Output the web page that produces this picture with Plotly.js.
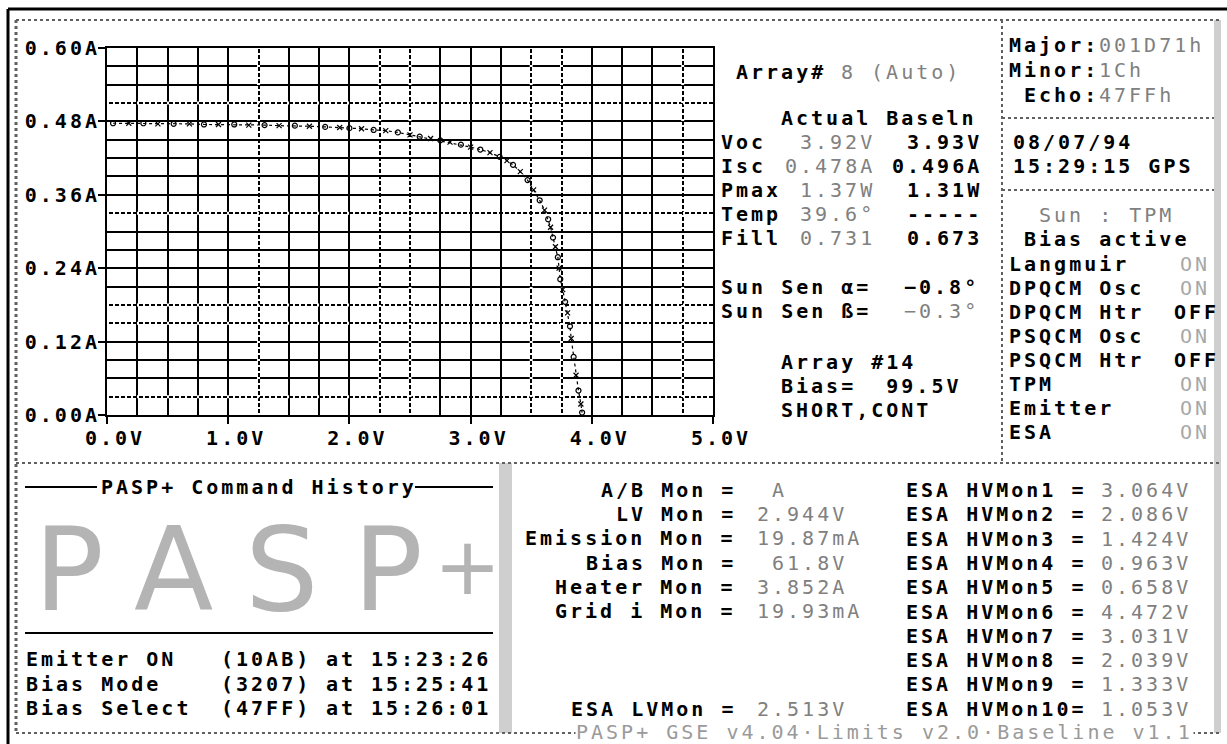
<!DOCTYPE html>
<html><head><meta charset="utf-8">
<script src="https://cdn.plot.ly/plotly-3.0.1.min.js"></script>
<style>
html,body{margin:0;padding:0;background:#fff;}
#chart{width:1227px;height:744px;}
text{letter-spacing:3px;}
</style></head><body><div id="chart"></div>
<script>
// ---- I-V curve data ----
const voltage = [0.05,0.18,0.30,0.42,0.55,0.68,0.80,0.92,1.05,1.17,1.30,1.42,1.55,1.67,1.80,1.92,2.00,2.10,2.20,2.30,2.40,2.50,2.58,2.67,2.75,2.83,2.92,3.00,3.08,3.16,3.24,3.30,3.35,3.41,3.47,3.52,3.57,3.61,3.64,3.66,3.68,3.70,3.72,3.73,3.74,3.76,3.78,3.80,3.82,3.83,3.85,3.87,3.89,3.91,3.92];
const current = [0.477,0.477,0.477,0.476,0.476,0.476,0.475,0.475,0.475,0.474,0.474,0.473,0.473,0.472,0.471,0.470,0.469,0.468,0.466,0.465,0.462,0.458,0.455,0.452,0.449,0.446,0.442,0.438,0.434,0.429,0.422,0.416,0.409,0.398,0.384,0.368,0.351,0.335,0.320,0.307,0.290,0.275,0.258,0.240,0.222,0.205,0.185,0.167,0.145,0.125,0.095,0.065,0.040,0.018,0.004];
const xTickVals = [0,1,2,3,4,5];
const xTickText = ['0.0V','1.0V','2.0V','3.0V','4.0V','5.0V'];
const yTickVals = [0,0.12,0.24,0.36,0.48,0.60];
const yTickText = ['0.00A','0.12A','0.24A','0.36A','0.48A','0.60A'];
const dashedV = [1.25,2.25,2.5,3.5,3.75,4.75];
const dashedI = [0.03,0.15,0.18,0.33,0.51];

// ---- panel texts ----
const arrayHead = ['Array#','8 (Auto)'];
const paramNames = ['Voc','Isc','Pmax','Temp','Fill'];
const actualVals = ['3.92V','0.478A','1.37W','39.6°','0.731'];
const baselnVals = ['3.93V','0.496A','1.31W','-----','0.673'];
const sunLabels = ['Sun Sen α=','Sun Sen ß='];
const sunVals = ['\u22120.8°','\u22120.3°'];
const arrayInfo = ['Array #14','Bias=  99.5V','SHORT,CONT'];
const frameNames = ['Major:','Minor:','Echo:'];
const frameVals = ['001D71h','1Ch','47FFh'];
const dateLines = ['08/07/94','15:29:15 GPS'];
const modeLines = ['Sun : TPM','Bias active'];
const statusNames = ['Langmuir','DPQCM Osc','DPQCM Htr','PSQCM Osc','PSQCM Htr','TPM','Emitter','ESA'];
const statusVals = ['ON','ON','OFF','ON','OFF','ON','ON','ON'];
const cmdTitle = 'PASP+ Command History';
const bigLetters = ['P','A','S','P','+'];
const cmdNames = ['Emitter ON','Bias Mode','Bias Select'];
const cmdCodes = ['(10AB)','(3207)','(47FF)'];
const cmdTimes = ['15:23:26','15:25:41','15:26:01'];
const monNames = ['A/B Mon =','LV Mon =','Emission Mon =','Bias Mon =','Heater Mon =','Grid i Mon ='];
const monVals = ['\u00a0A','2.944V','19.87mA','\u00a061.8V','3.852A','19.93mA'];
const esaLvName = 'ESA LVMon =';
const esaLvVal = '2.513V';
const esaHvNames = ['ESA HVMon1 =','ESA HVMon2 =','ESA HVMon3 =','ESA HVMon4 =','ESA HVMon5 =','ESA HVMon6 =','ESA HVMon7 =','ESA HVMon8 =','ESA HVMon9 =','ESA HVMon10='];
const esaHvVals = ['3.064V','2.086V','1.424V','0.963V','0.658V','4.472V','3.031V','2.039V','1.333V','1.053V'];
const footer = 'PASP+ GSE v4.04\u00b7Limits v2.0\u00b7Baseline v1.1';

// ---- layout helpers ----
const W = 1227, H = 744, P = 15;
const MONO = 'DejaVu Sans Mono';
const GRAY = '#808080';
const px = x => x / W, py = y => 1 - y / H;
const anns = [];
function txt(x, y, text, o) {
  o = o || {};
  anns.push({xref:'paper', yref:'paper', x:px(x), y:py(y), text:text, showarrow:false,
    xanchor:o.anchor || 'left', yanchor:'middle', align:'left', borderpad:0,
    bgcolor:o.bg || 'rgba(0,0,0,0)',
    font:{family:o.family || MONO, size:o.size || 20, color:o.color || '#000', weight:o.weight || 'bold'}});
}
const shapes = [];
function ln(x0,y0,x1,y1,color,width,dash){
  shapes.push({type:'line', xref:'paper', yref:'paper', x0:px(x0), y0:py(y0), x1:px(x1), y1:py(y1),
    line:{color:color, width:width, dash:dash || 'solid'}, layer:'above'});
}
function band(x0,y0,x1,y1,color){
  shapes.push({type:'rect', xref:'paper', yref:'paper', x0:px(x0), y0:py(y0), x1:px(x1), y1:py(y1),
    line:{width:0}, fillcolor:color, layer:'below'});
}
const DOT = '#606060';
// frame
ln(8,9,1227,9,'#000',3);
ln(8,9,8,744,'#000',3);
ln(16,20,1220,20,DOT,2,'dot');
ln(16,20,16,733,DOT,3,'dot');
ln(16,733,1220,733,DOT,2,'dot');
band(1214,20,1221,733,'#cfcfcf');
ln(16,463,1220,463,DOT,2,'dot');
ln(1002,20,1002,463,DOT,2,'dot');
ln(1002,118,1214,118,DOT,2,'dot');
ln(1002,190,1214,190,DOT,2,'dot');
band(499,463,512,733,'#cfcfcf');

// dashed grid overlay (white breaks on chosen grid lines)
dashedV.forEach(v => shapes.push({type:'line', xref:'x', yref:'y', x0:v, x1:v, y0:0, y1:0.6,
  line:{color:'#fff', width:3, dash:'2px,4px'}, layer:'between'}));
dashedI.forEach(i => shapes.push({type:'line', xref:'x', yref:'y', x0:0, x1:5, y0:i, y1:i,
  line:{color:'#fff', width:3, dash:'2px,4px'}, layer:'between'}));

// top middle block
const X0 = 720;
txt(X0 + 1*P, 72, arrayHead[0]);
txt(X0 + 8*P, 72, arrayHead[1], {color:GRAY, weight:'normal'});
txt(X0 + 4*P, 118, 'Actual Baseln');
paramNames.forEach((n,i) => {
  const y = 142 + 24*i;
  txt(X0, y, n);
  txt(876, y, actualVals[i], {anchor:'right', color:GRAY, weight:'normal'});
  txt(983, y, baselnVals[i], {anchor:'right'});
});
sunLabels.forEach((n,i) => {
  const y = 287 + 24*i;
  txt(X0, y, n);
  txt(980, y, sunVals[i], {anchor:'right', color: i ? GRAY : '#000', weight: i ? 'normal' : 'bold'});
});
arrayInfo.forEach((t,i) => txt(X0 + 4*P, 362 + 24*i, t));

// right column
const R0 = 1008;
frameNames.forEach((n,i) => {
  const y = 45 + 25*i;
  const c = i === 2 ? 1 : 0;
  txt(R0 + c*P, y, n);
  txt(R0 + (c + n.length)*P, y, frameVals[i], {color:GRAY, weight:'normal'});
});
dateLines.forEach((t,i) => txt(R0 + 4, 142 + 24*i, t));
txt(R0 + 2*P, 215, modeLines[0], {color:GRAY, weight:'normal'});
txt(R0 + 1*P, 239, modeLines[1]);
statusNames.forEach((n,i) => {
  const y = 264 + 24*i;
  txt(R0, y, n);
  const on = statusVals[i] === 'ON';
  txt(R0 + 11*P + (on ? 6 : 0), y, statusVals[i], {color: on ? '#a8a8a8' : '#000', weight: on ? 'normal' : 'bold'});
});

// command history
const C0 = 25;
txt(C0 + 5*P, 487, cmdTitle);
ln(C0, 487, C0 + 5*P - 3, 487, '#000', 2);
ln(C0 + 5*P + cmdTitle.length*P, 487, 493, 487, '#000', 2);
const letterX = [70, 175, 283, 389, 469];
bigLetters.forEach((l,i) => txt(letterX[i], l === '+' ? 566 : 569, l,
  {anchor:'center', size: l === '+' ? 80 : 116, color:'#b4b4b4', weight:'normal', family:'DejaVu Sans'}));
ln(C0, 633, 493, 633, '#000', 2);
cmdNames.forEach((n,i) => {
  const y = 659 + 24.5*i;
  txt(C0, y, n);
  txt(C0 + 13*P, y, cmdCodes[i]);
  txt(C0 + 20*P, y, 'at');
  txt(C0 + 23*P, y, cmdTimes[i]);
});

// monitors
const EQ = 722;
monNames.forEach((n,i) => {
  const y = 490 + 24.2*i;
  txt(EQ + P, y, n, {anchor:'right'});
  txt(EQ + 2*P + 4, y, monVals[i], {color:GRAY, weight:'normal'});
});
txt(EQ + P, 709, esaLvName, {anchor:'right'});
txt(EQ + 2*P + 4, 709, esaLvVal, {color:GRAY, weight:'normal'});
const E0 = 905;
esaHvNames.forEach((n,i) => {
  const y = 490 + 24.3*i;
  txt(E0, y, n);
  txt(E0 + 13*P, y, esaHvVals[i], {color:GRAY, weight:'normal'});
});
txt(575, 732, footer, {color:'#9a9a9a', weight:'normal', bg:'#fff'});

const markerSymbols = voltage.map((v,i) => i % 2 ? 'x-thin-open' : 'circle-open');

const tickFont = {family:MONO, size:20, color:'#000', weight:'bold'};
const trace = {
  x: voltage, y: current, type:'scatter', mode:'lines+markers',
  line:{color:'#000', width:1.2, dash:'dot'},
  marker:{symbol:markerSymbols, size:5, color:'#000', line:{width:1.2, color:'#000'}},
  cliponaxis:false, hoverinfo:'skip'
};
const layout = {
  width:W, height:H, margin:{l:0,r:0,t:0,b:0},
  paper_bgcolor:'#fff', plot_bgcolor:'#fff', showlegend:false, hovermode:false,
  xaxis:{domain:[px(107), px(713)], range:[0,5], tickmode:'array', tickvals:xTickVals, ticktext:xTickText,
    ticks:'outside', ticklen:7, tickwidth:2, tickcolor:'#000', ticklabelshift:8, ticklabelstandoff:-3,
    showgrid:true, gridcolor:'#000', gridwidth:2, zeroline:false,
    showline:true, linecolor:'#000', linewidth:2, mirror:true, tickfont:tickFont, fixedrange:true,
    minor:{tickmode:'linear', tick0:0, dtick:0.25, showgrid:true, gridcolor:'#000', gridwidth:2, ticks:''}},
  yaxis:{domain:[py(415), py(48)], range:[0,0.6], tickmode:'array', tickvals:yTickVals, ticktext:yTickText,
    ticks:'outside', ticklen:7, tickwidth:2, tickcolor:'#000', ticklabelstandoff:-6,
    showgrid:true, gridcolor:'#000', gridwidth:2, zeroline:false,
    showline:true, linecolor:'#000', linewidth:2, mirror:true, tickfont:tickFont, fixedrange:true,
    minor:{tickmode:'linear', tick0:0, dtick:0.03, showgrid:true, gridcolor:'#000', gridwidth:2, ticks:''}},
  shapes:shapes, annotations:anns
};
Plotly.newPlot('chart', [trace], layout, {staticPlot:true, displayModeBar:false});
</script></body></html>
